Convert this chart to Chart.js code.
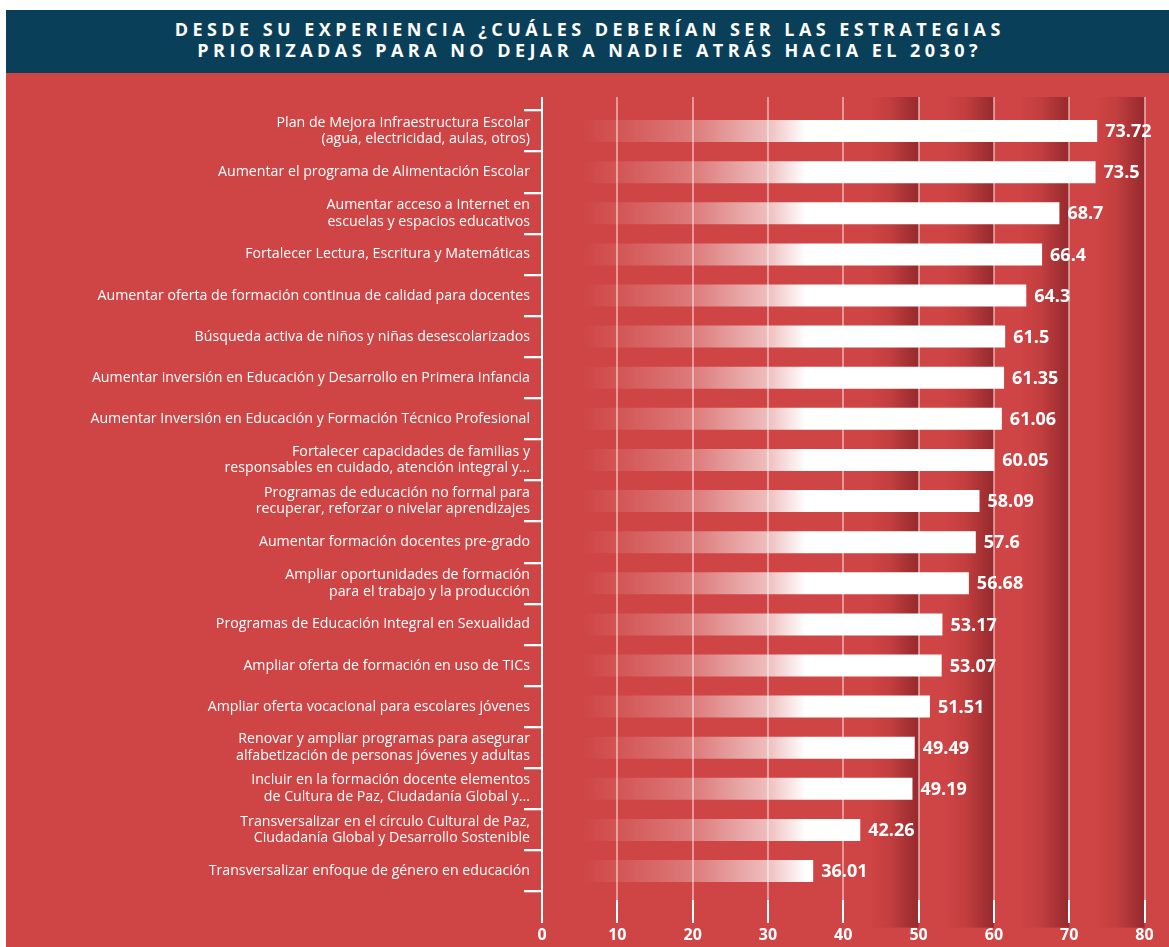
<!DOCTYPE html>
<html><head><meta charset="utf-8">
<script src="https://cdn.jsdelivr.net/npm/chart.js@4.4.1/dist/chart.umd.min.js"></script>
<style>
html,body{margin:0;padding:0;background:#fff;width:1169px;height:947px;overflow:hidden}
#title{position:absolute;left:6px;top:10px;width:1163px;height:63px;background:#0a3f5a;color:#fff;font-family:'Open Sans',sans-serif;font-weight:700;font-size:18px;letter-spacing:4.45px;text-align:center;line-height:21px;box-sizing:border-box;padding-top:8.5px;padding-left:4.45px;white-space:nowrap}
#wrap{position:absolute;left:6px;top:73px;width:1163px;height:874px;background:#cf4444}
canvas{display:block}
</style></head>
<body>
<div id="title">DESDE SU EXPERIENCIA ¿CUÁLES DEBERÍAN SER LAS ESTRATEGIAS<br>PRIORIZADAS PARA NO DEJAR A NADIE ATRÁS HACIA EL 2030?</div>
<div id="wrap"><canvas id="c" width="1163" height="874"></canvas></div>
<script>
const categories = [
  ["Plan de Mejora Infraestructura Escolar", "(agua, electricidad, aulas, otros)"],
  "Aumentar el programa de Alimentación Escolar",
  ["Aumentar acceso a Internet en", "escuelas y espacios educativos"],
  "Fortalecer Lectura, Escritura y Matemáticas",
  "Aumentar oferta de formación continua de calidad para docentes",
  "Búsqueda activa de niños y niñas desescolarizados",
  "Aumentar inversión en Educación y Desarrollo en Primera Infancia",
  "Aumentar Inversión en Educación y Formación Técnico Profesional",
  ["Fortalecer capacidades de familias y", "responsables en cuidado, atención integral y..."],
  ["Programas de educación no formal para", "recuperar, reforzar o nivelar aprendizajes"],
  "Aumentar formación docentes pre-grado",
  ["Ampliar oportunidades de formación", "para el trabajo y la producción"],
  "Programas de Educación Integral en Sexualidad",
  "Ampliar oferta de formación en uso de TICs",
  "Ampliar oferta vocacional para escolares jóvenes",
  ["Renovar y ampliar programas para asegurar", "alfabetización de personas jóvenes y adultas"],
  ["Incluir en la formación docente elementos", "de Cultura de Paz, Ciudadanía Global y..."],
  ["Transversalizar en el círculo Cultural de Paz,", "Ciudadanía Global y Desarrollo Sostenible"],
  "Transversalizar enfoque de género en educación"
];
const values = [73.72, 73.5, 68.7, 66.4, 64.3, 61.5, 61.35, 61.06, 60.05, 58.09, 57.6, 56.68, 53.17, 53.07, 51.51, 49.49, 49.19, 42.26, 36.01];
const valueLabels = ["73.72", "73.5", "68.7", "66.4", "64.3", "61.5", "61.35", "61.06", "60.05", "58.09", "57.6", "56.68", "53.17", "53.07", "51.51", "49.49", "49.19", "42.26", "36.01"];
const xTicks = [0, 10, 20, 30, 40, 50, 60, 70, 80];
const stripeEnds = [50, 60, 70, 80];

function vline(ctx, x, y1, y2) { ctx.beginPath(); ctx.moveTo(x, y1); ctx.lineTo(x, y2); ctx.stroke(); }

const decor = {
  id: 'decor',
  beforeDatasetsDraw(chart) {
    const { ctx, chartArea: a, scales: { x } } = chart;
    const top = a.top - 13.5, stripeBottom = a.bottom + 36, gridBottom = a.bottom + 8.5, tickBottom = a.bottom + 31.5;
    ctx.save();
    stripeEnds.forEach(v => {
      const x1 = x.getPixelForValue(v - 6.4), x2 = x.getPixelForValue(v);
      const g = ctx.createLinearGradient(x1, 0, x2, 0);
      g.addColorStop(0, 'rgba(150,42,46,0)');
      g.addColorStop(0.4, 'rgba(150,42,46,0.2)');
      g.addColorStop(0.8, 'rgba(150,42,46,0.75)');
      g.addColorStop(1, 'rgba(150,42,46,1)');
      ctx.fillStyle = g;
      ctx.fillRect(x1, top, x2 - x1, stripeBottom - top);
    });
    ctx.lineWidth = 2;
    xTicks.forEach(v => {
      const px = Math.round(x.getPixelForValue(v));
      if (v !== 0) {
        ctx.strokeStyle = 'rgba(255,255,255,0.45)';
        vline(ctx, px, top, gridBottom);
      }
      ctx.strokeStyle = '#ffffff';
      vline(ctx, px, v === 0 ? top : gridBottom, tickBottom);
    });
    ctx.restore();
  },
  afterDatasetsDraw(chart) {
    const { ctx } = chart;
    const meta = chart.getDatasetMeta(0);
    ctx.save();
    ctx.font = 'bold 18px "Open Sans"';
    ctx.fillStyle = '#ffffff';
    ctx.textAlign = 'left';
    ctx.textBaseline = 'middle';
    meta.data.forEach((bar, i) => ctx.fillText(valueLabels[i], bar.x + 8, bar.y + 1));
    ctx.restore();
  }
};

function barFill(c) {
  const chart = c.chart;
  if (!chart.chartArea) return '#ffffff';
  const x = chart.scales.x;
  const x1 = x.getPixelForValue(5), x2 = x.getPixelForValue(35);
  const g = chart.ctx.createLinearGradient(x1, 0, x2, 0);
  g.addColorStop(0, 'rgba(255,255,255,0)');
  g.addColorStop(0.18, 'rgba(255,255,255,0.1)');
  g.addColorStop(0.51, 'rgba(255,255,255,0.3)');
  g.addColorStop(0.83, 'rgba(255,255,255,0.65)');
  g.addColorStop(1, 'rgba(255,255,255,1)');
  return g;
}

new Chart(document.getElementById('c'), {
  type: 'bar',
  data: {
    labels: categories,
    datasets: [{ data: values, backgroundColor: barFill, borderWidth: 0, barPercentage: 0.535, categoryPercentage: 1 }]
  },
  options: {
    indexAxis: 'y',
    responsive: false,
    animation: false,
    events: [],
    layout: { padding: { top: 37.5, right: 24.5, left: 0, bottom: 0 } },
    plugins: { legend: { display: false }, tooltip: { enabled: false } },
    scales: {
      x: {
        type: 'linear', min: 0, max: 80, position: 'bottom',
        grid: { display: false, drawTicks: false },
        border: { display: false },
        ticks: { stepSize: 10, color: '#ffffff', font: { family: 'Open Sans', weight: 'bold', size: 16 }, padding: 34, maxRotation: 0 },
        afterFit: s => { s.height = 55.4; s.paddingLeft = 0; s.paddingRight = 0; }
      },
      y: {
        type: 'category',
        grid: { drawOnChartArea: false, drawTicks: true, tickLength: 18, color: '#ffffff', lineWidth: 2.3, offset: true },
        border: { display: false },
        ticks: { color: '#ffffff', font: { family: 'Open Sans', size: 14.2, lineHeight: 1.18 }, padding: -6, autoSkip: false },
        afterFit: s => { s.width = 536; s.paddingTop = 0; s.paddingBottom = 0; }
      }
    }
  },
  plugins: [decor]
});
</script>
</body></html>
